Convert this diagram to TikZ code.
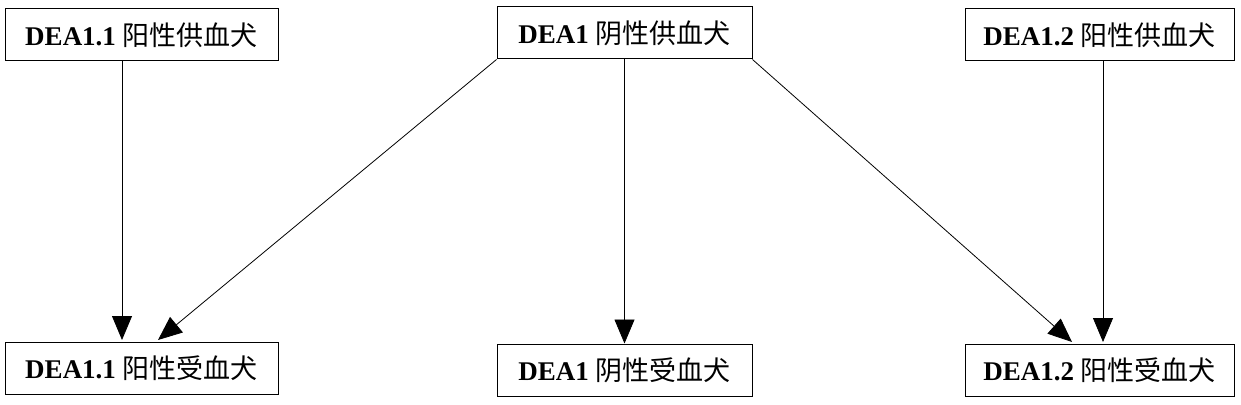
\documentclass[tikz,border=0pt]{standalone}
\usepackage{fontspec}
\setmainfont{Liberation Serif}
\newfontfamily\cjk{Noto Sans CJK SC}
\usetikzlibrary{arrows.meta}
\begin{document}
\begin{tikzpicture}[x=1pt,y=-1pt,
  box/.style={draw,line width=1pt,minimum height=52pt,inner sep=0pt,font=\fontsize{27}{29}\selectfont},
  arr/.style={line width=0.8pt,-{Triangle[length=24pt,width=20pt]}}]
\useasboundingbox (0,0) rectangle (1241,404);
\node[box,minimum width=273pt] (tl) at (141.5,35) {\textbf{DEA1.1} {\cjk 阳性供血犬}};
\node[box,minimum width=255pt] (tm) at (624.5,33) {\textbf{DEA1} {\cjk 阴性供血犬}};
\node[box,minimum width=269pt] (tr) at (1099.5,35) {\textbf{DEA1.2} {\cjk 阳性供血犬}};
\node[box,minimum width=273pt] (bl) at (141.5,368) {\textbf{DEA1.1} {\cjk 阳性受血犬}};
\node[box,minimum width=255pt] (bm) at (624.5,370) {\textbf{DEA1} {\cjk 阴性受血犬}};
\node[box,minimum width=269pt] (br) at (1099.5,370) {\textbf{DEA1.2} {\cjk 阳性受血犬}};
\draw[arr] (tl.south -| 122,0) -- (122,340);
\draw[arr] (tm.south west) -- (158,340);
\draw[arr] (tm.south) -- (bm.north);
\draw[arr] (tm.south east) -- (1072,342);
\draw[arr] (tr.south -| 1103,0) -- (1103,342);
\end{tikzpicture}
\end{document}
